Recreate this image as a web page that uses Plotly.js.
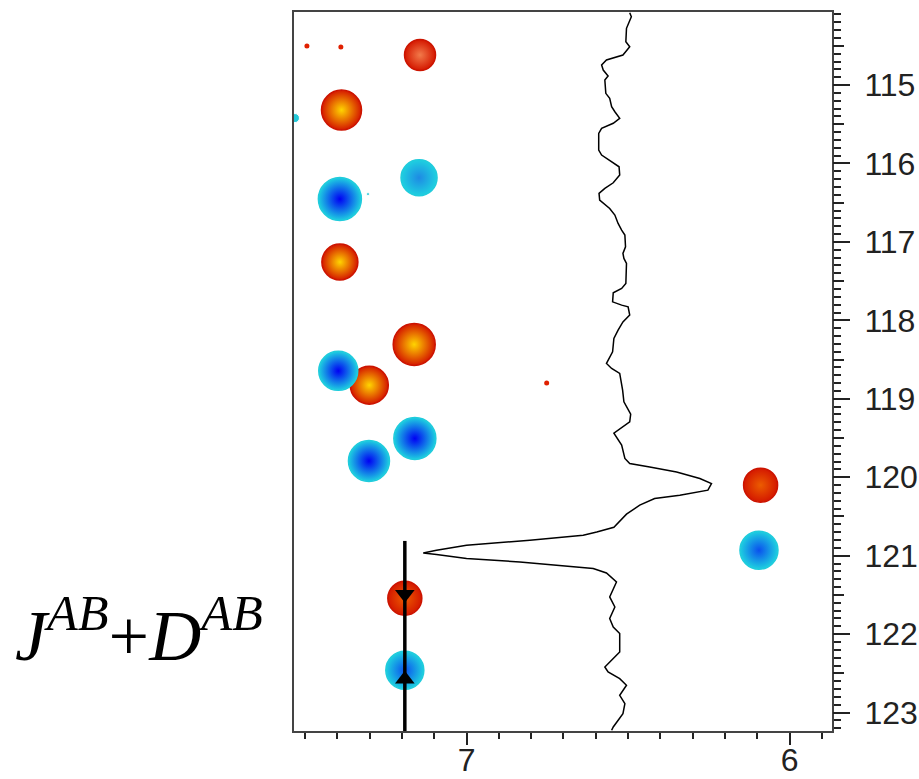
<!DOCTYPE html>
<html>
<head>
<meta charset="utf-8">
<script src="https://cdn.plot.ly/plotly-3.0.1.min.js"></script>
<style>html,body{margin:0;padding:0;background:#fff;}#chart{width:919px;height:779px;}</style>
</head>
<body>
<div id="chart"></div>
<script>
// 1D trace (slice), ppm values
const traceX = [6.495,6.490,6.505,6.507,6.495,6.516,6.567,6.582,6.577,6.562,
  6.572,6.569,6.557,6.551,6.541,6.526,6.546,6.582,6.591,6.591,
  6.582,6.557,6.528,6.526,6.546,6.572,6.590,6.588,6.557,6.541,
  6.531,6.520,6.510,6.508,6.516,6.513,6.505,6.507,6.520,6.546,
  6.548,6.520,6.500,6.495,6.516,6.531,6.544,6.548,6.562,6.567,
  6.551,6.526,6.517,6.513,6.492,6.495,6.544,6.520,6.510,6.495,
  6.433,6.350,6.278,6.242,6.253,6.340,6.418,6.464,6.505,6.544,
  6.597,6.639,6.804,7.000,7.093,7.134,7.093,7.000,6.835,6.650,
  6.608,6.567,6.536,6.557,6.541,6.557,6.546,6.526,6.526,6.546,
  6.572,6.562,6.526,6.505,6.526,6.510,6.516,6.546,6.551];
const traceY = [114.078,114.129,114.277,114.448,114.512,114.617,114.681,114.745,114.809,114.885,
  114.936,115.106,115.170,115.277,115.341,115.425,115.488,115.552,115.616,115.829,
  115.893,115.957,116.042,116.148,116.246,116.317,116.381,116.467,116.573,116.658,
  116.764,116.849,116.913,117.062,117.146,117.210,117.274,117.529,117.593,117.649,
  117.764,117.806,117.827,117.933,118.019,118.125,118.230,118.401,118.507,118.549,
  118.613,118.677,118.890,119.039,119.196,119.294,119.438,119.591,119.761,119.825,
  119.868,119.932,120.016,120.080,120.165,120.229,120.271,120.356,120.471,120.637,
  120.697,120.739,120.803,120.867,120.930,120.965,120.985,121.036,121.080,121.143,
  121.164,121.220,121.335,121.526,121.654,121.801,121.909,121.993,122.227,122.312,
  122.419,122.482,122.567,122.652,122.780,122.886,123.013,123.184,123.226];

// positive (red/orange) cross peaks
const posH = [7.144, 7.387, 7.392, 7.162, 7.301, 7.191, 6.090];
const posN = [114.617, 115.319, 117.257, 118.307, 118.826, 121.543, 120.101];
const posLevel = ['weak','strong','strong','strong','strong','medium','medium'];
const posSize = [31, 40, 36, 42, 38, 34, 34];

// negative (blue) cross peaks
const negH = [7.392, 7.147, 7.397, 7.160, 7.302, 7.191, 6.095];
const negN = [116.454, 116.182, 118.644, 119.506, 119.792, 122.461, 120.930];
const negLevel = ['strong','weak','strong','strong','strong','medium','medium'];
const negSize = [43, 36, 39, 42, 41, 38, 38];

// small noise spots
const noisePosH = [7.494, 7.389, 6.752];
const noisePosN = [114.503, 114.515, 118.800];
const noiseNegH = [7.531, 7.305];
const noiseNegN = [115.421, 116.390];

// arrow marking J^AB + D^AB
const arrowH = 7.191;
const arrowN = [120.812, 123.26];
const headN = [121.492, 122.576];
const headSym = ['triangle-down', 'triangle-up'];

const xRange = [7.534, 5.869];
const yRange = [123.235, 114.069];

const posCenter = {strong:'#ffd400', medium:'#ec5c00', weak:'#f27a4a'};
const negCenter = {strong:'#0000f4', medium:'#0a50ee', weak:'#1e8ae4'};

const traces = [
  {type:'scatter', mode:'markers', x:posH, y:posN, hoverinfo:'skip',
   marker:{size:posSize, opacity:1, color:'#d41800', line:{width:1.5, color:'#cc1400'},
     gradient:{type:'radial', color:posLevel.map(l=>posCenter[l])}}},
  {type:'scatter', mode:'markers', x:negH, y:negN, hoverinfo:'skip',
   marker:{size:negSize, opacity:1, color:'#1ed0e0', line:{width:1.5, color:'#20ccdc'},
     gradient:{type:'radial', color:negLevel.map(l=>negCenter[l])}}},
  {type:'scatter', mode:'markers', x:noisePosH, y:noisePosN, hoverinfo:'skip',
   marker:{size:5, opacity:1, color:'#e02000'}},
  {type:'scatter', mode:'markers', x:noiseNegH, y:noiseNegN, hoverinfo:'skip',
   marker:{size:[9,3], opacity:1, color:'#22c8d8'}},
  {type:'scatter', mode:'lines', x:traceX, y:traceY, hoverinfo:'skip',
   line:{color:'#000', width:1.5}},
  {type:'scatter', mode:'lines', x:[arrowH, arrowH], y:arrowN, hoverinfo:'skip', cliponaxis:false,
   line:{color:'#000', width:3.5}},
  {type:'scatter', mode:'markers', x:[arrowH, arrowH], y:headN, yaxis:'y2', hoverinfo:'skip',
   marker:{symbol:headSym, size:17, opacity:1, color:'#000'}}
];

const tickFont = {family:'Liberation Sans, Arial, sans-serif', size:32, color:'#222'};

const layout = {
  width:919, height:779,
  margin:{l:294, r:87, t:12, b:48},
  paper_bgcolor:'#fff', plot_bgcolor:'#fff',
  showlegend:false,
  xaxis:{range:xRange, tick0:0, dtick:1, ticks:'outside', ticklen:12, tickwidth:2, tickcolor:'#222',
    showline:true, linecolor:'#444', linewidth:2, mirror:true, showgrid:false, zeroline:false,
    tickfont:tickFont, ticklabelstandoff:-12,
    minor:{dtick:0.1, ticks:'outside', ticklen:6, tickwidth:2, tickcolor:'#222', showgrid:false}},
  yaxis:{range:yRange, side:'right', tick0:0, dtick:1, ticks:'outside', ticklen:16, tickwidth:2, tickcolor:'#222',
    showline:true, linecolor:'#444', linewidth:2, mirror:true, showgrid:false, zeroline:false,
    tickfont:tickFont, ticklabelstandoff:8,
    minor:{dtick:0.1, ticks:'outside', ticklen:7, tickwidth:2, tickcolor:'#222', showgrid:false}},
  yaxis2:{range:yRange, overlaying:'y', side:'right', tick0:0, dtick:0.5, ticks:'outside', ticklen:11,
    tickwidth:2, tickcolor:'#222', showticklabels:false, showline:false, showgrid:false, zeroline:false},
  annotations:[{
    xref:'paper', yref:'paper', x:-0.522, y:0.14, xanchor:'left', yanchor:'middle',
    text:'<i>J</i><sup><i>AB</i></sup>+<i>D</i><sup><i>AB</i></sup>', showarrow:false,
    font:{family:'Liberation Serif, Times New Roman, serif', size:72, color:'#000'}
  }]
};

Plotly.newPlot('chart', traces, layout, {staticPlot:true, displayModeBar:false});
</script>
</body>
</html>
